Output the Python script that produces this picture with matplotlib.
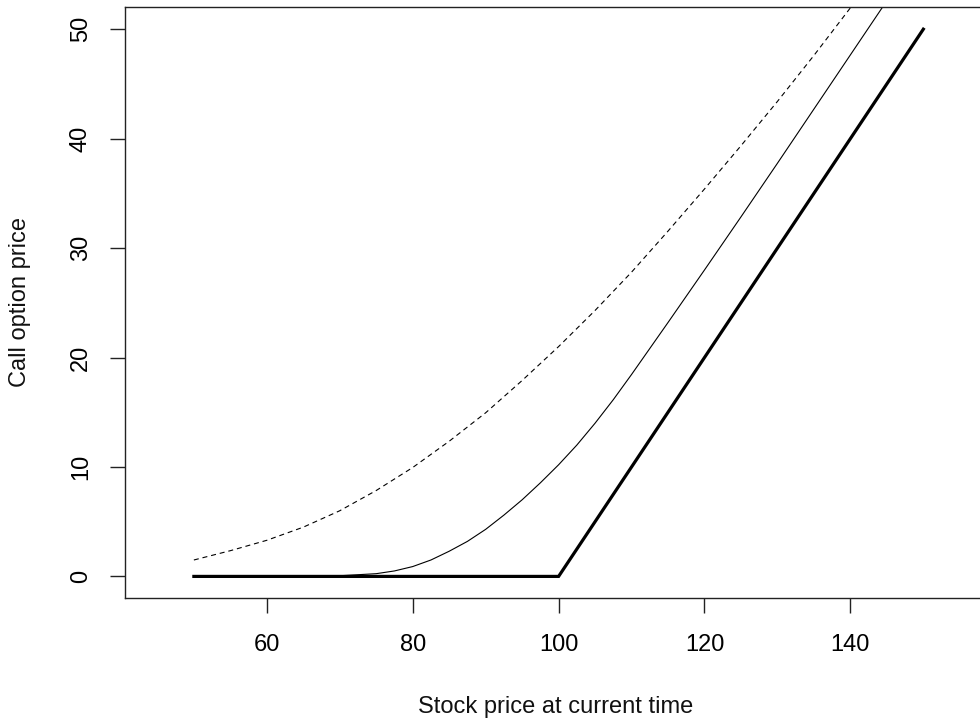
import matplotlib
matplotlib.use("Agg")
import matplotlib.pyplot as plt

# Intrinsic value (thick line)
intrinsic_x = [50, 100, 150]
intrinsic_y = [0, 0, 50]

# Thin solid curve
solid_x = [50, 60, 65, 70, 75, 77.5, 80, 82.5, 85, 87.5, 90, 92.5, 95, 97.5, 100, 102.5,
           105, 107.5, 110, 115, 120, 125, 130, 135, 140, 145]
solid_y = [0.0, 0.0, 0.02, 0.06, 0.25, 0.5, 0.9, 1.5, 2.3, 3.2, 4.3, 5.6, 7.0, 8.55, 10.2,
           12.0, 14.0, 16.15, 18.45, 23.2, 28.0, 32.85, 37.75, 42.7, 47.65, 52.6]

# Dashed curve
dashed_x = [50, 55, 60, 65, 70, 75, 80, 85, 90, 95, 100, 105, 110, 115, 120, 125, 130, 135, 140]
dashed_y = [1.5, 2.35, 3.3, 4.5, 6.0, 7.85, 9.95, 12.35, 14.95, 17.9, 21.0, 24.3, 27.8,
            31.55, 35.4, 39.35, 43.4, 47.6, 51.95]

xticks = [60, 80, 100, 120, 140]
yticks = [0, 10, 20, 30, 40, 50]

plt.rcParams['font.family'] = ['Liberation Sans', 'DejaVu Sans']

W, H = 980, 726
fig = plt.figure(figsize=(W / 100, H / 100), dpi=100)
left, right, top, bottom = 125.3, 991.9, 7.3, 598.3
ax = fig.add_axes([left / W, 1 - bottom / H, (right - left) / W, (bottom - top) / H])

ax.plot(intrinsic_x, intrinsic_y, color='black', lw=2.3, solid_joinstyle='miter')
ax.plot(solid_x, solid_y, color='black', lw=0.8)
ax.plot(dashed_x, dashed_y, color='black', lw=0.8, dashes=(4.5, 3.5))

ax.set_xlim(40.6, 159.4)
ax.set_ylim(-2, 52)
ax.set_xticks(xticks)
ax.set_yticks(yticks)
ax.set_xticklabels([str(v) for v in xticks])
ax.set_yticklabels([str(v) for v in yticks])

for s in ax.spines.values():
    s.set_linewidth(1.0)
    s.set_color('#222222')

ax.tick_params(axis='both', length=11, width=1.0, color='#222222', labelsize=17,
               direction='out')
ax.tick_params(axis='x', pad=15)
ax.tick_params(axis='y', pad=13)
for lbl in ax.get_yticklabels():
    lbl.set_rotation(90)
    lbl.set_va('center')

fig.text(556 / W, 1 - 707 / H, 'Stock price at current time', ha='center', va='center',
         fontsize=17, color='#111111')
fig.text(20 / W, 1 - 302 / H, 'Call option price', ha='center', va='center',
         rotation=90, fontsize=17, color='#111111')

fig.savefig('out.png', dpi=100)
